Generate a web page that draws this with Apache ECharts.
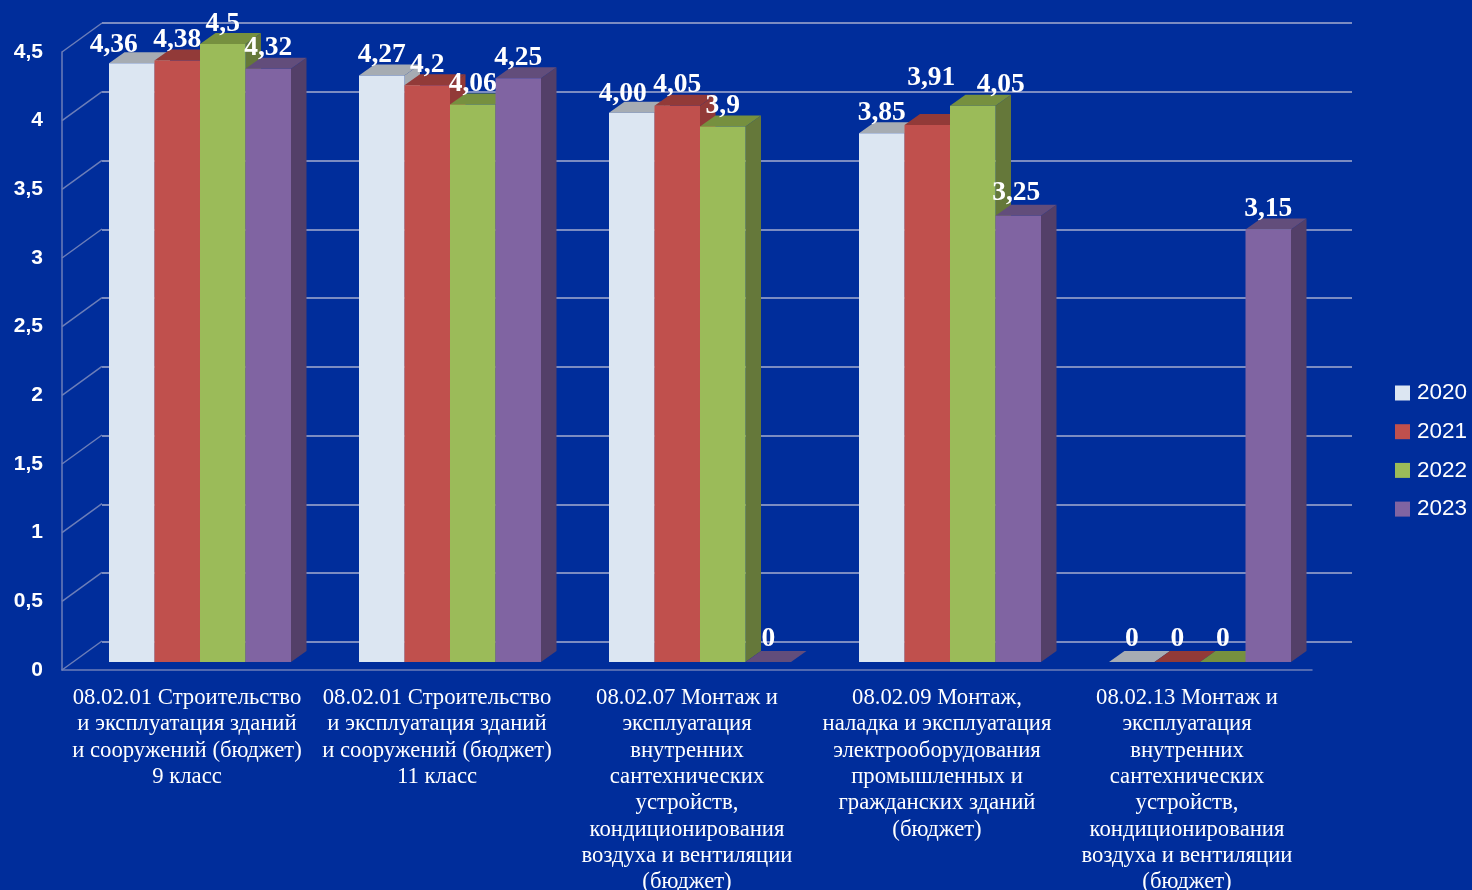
<!DOCTYPE html>
<html>
<head>
<meta charset="utf-8">
<title>Chart</title>
<script src="https://cdn.jsdelivr.net/npm/echarts@6/dist/echarts.min.js"></script>
<style>
html, body { margin: 0; padding: 0; background: #002d9b; }
#chart { width: 1472px; height: 890px; filter: blur(0.5px); }
</style>
</head>
<body>
<div id="chart"></div>
<script>
var categories = [
    '08.02.01 Строительство\nи эксплуатация зданий\nи сооружений (бюджет)\n9 класс',
    '08.02.01 Строительство\nи эксплуатация зданий\nи сооружений (бюджет)\n11 класс',
    '08.02.07 Монтаж и\nэксплуатация\nвнутренних\nсантехнических\nустройств,\nкондиционирования\nвоздуха и вентиляции\n(бюджет)',
    '08.02.09 Монтаж,\nналадка и эксплуатация\nэлектрооборудования\nпромышленных и\nгражданских зданий\n(бюджет)',
    '08.02.13 Монтаж и\nэксплуатация\nвнутренних\nсантехнических\nустройств,\nкондиционирования\nвоздуха и вентиляции\n(бюджет)'
];
var years = ['2020', '2021', '2022', '2023'];
var values2020 = [4.36, 4.27, 4.00, 3.85, 0];
var values2021 = [4.38, 4.2, 4.05, 3.91, 0];
var values2022 = [4.5, 4.06, 3.9, 4.05, 0];
var values2023 = [4.32, 4.25, 0, 3.25, 3.15];
var labels2020 = ['4,36', '4,27', '4,00', '3,85', '0'];
var labels2021 = ['4,38', '4,2', '4,05', '3,91', '0'];
var labels2022 = ['4,5', '4,06', '3,9', '4,05', '0'];
var labels2023 = ['4,32', '4,25', '0', '3,25', '3,15'];
var yTicks = [0, 0.5, 1, 1.5, 2, 2.5, 3, 3.5, 4, 4.5];

var allValues = [values2020, values2021, values2022, values2023];
var allLabels = [labels2020, labels2021, labels2022, labels2023];

// front, top, side
var colors = [
    ['#dce6f2', '#a6acb3', '#a6acb3'],
    ['#c0504d', '#923a38', '#923a38'],
    ['#9bbb59', '#76903f', '#65783a'],
    ['#8064a2', '#624d7b', '#533f68']
];

var gridColor = '#7b8cc2';
var lineColor = '#6c7eb9';
var depthX = 15.5, depthY = 11;      // depth of a bar
var shiftX = 13, shiftY = 8;         // bars stand a little behind the front plane
var wallX = 40, wallY = 29;          // back wall offset
var barShare = 0.182;                // bar width as part of the category band

// hand placed labels in the original: year index, category index -> dx, dy
var labelNudge = {
    '0-0': [-18, 2],
    '0-2': [-9, 2],
    '1-3': [4, -27],
    '2-3': [28, 0],
    '3-3': [-2, -2]
};

function barGeometry(api, k) {
    var pos = api.coord([api.value(0), api.value(1)]);
    var base = api.coord([api.value(0), 0]);
    var w = api.size([1, 0])[0] * barShare;
    var left = pos[0] + shiftX + (k - 2) * w;
    return { left: left, right: left + w, top: pos[1] - shiftY, bottom: base[1] - shiftY, width: w };
}

function renderBar(k) {
    return function (params, api) {
        var g = barGeometry(api, k);
        return {
            type: 'group',
            children: [
                {
                    type: 'polygon',
                    shape: { points: [[g.right, g.top], [g.right + depthX, g.top - depthY], [g.right + depthX, g.bottom - depthY], [g.right, g.bottom]] },
                    style: { fill: colors[k][2] }
                },
                {
                    type: 'polygon',
                    shape: { points: [[g.left, g.top], [g.right, g.top], [g.right + depthX, g.top - depthY], [g.left + depthX, g.top - depthY]] },
                    style: { fill: colors[k][1] }
                },
                {
                    type: 'rect',
                    shape: { x: g.left, y: g.top, width: g.width, height: g.bottom - g.top },
                    style: { fill: colors[k][0] }
                }
            ]
        };
    };
}

function renderLabel(k) {
    return function (params, api) {
        var g = barGeometry(api, k);
        var nudge = labelNudge[k + '-' + api.value(0)] || [0, 0];
        var up = api.value(1) === 0 ? 23.5 : 20.5;
        return {
            type: 'text',
            style: {
                text: allLabels[k][api.value(0)],
                x: (g.left + g.right) / 2 + nudge[0],
                y: g.top - up + nudge[1],
                fill: '#ffffff',
                font: 'bold 27.5px "Liberation Serif"',
                align: 'center',
                verticalAlign: 'middle'
            }
        };
    };
}

function renderDiagonal(params, api) {
    var pos = api.coord([0, api.value(1)]);
    var x = pos[0] - api.size([1, 0])[0] / 2;
    return {
        type: 'line',
        shape: { x1: x, y1: pos[1], x2: x + wallX, y2: pos[1] - wallY },
        style: { stroke: lineColor, lineWidth: 1.5 }
    };
}

var series = [{
    type: 'custom',
    renderItem: renderDiagonal,
    data: yTicks.map(function (v) { return [0, v]; }),
    encode: { x: 0, y: 1 },
    clip: false,
    silent: true
}];
years.forEach(function (year, k) {
    series.push({
        name: year,
        type: 'custom',
        renderItem: renderBar(k),
        data: allValues[k].map(function (v, i) { return [i, v]; }),
        encode: { x: 0, y: 1 },
        itemStyle: { color: colors[k][0] },
        clip: false
    });
});
years.forEach(function (year, k) {
    series.push({
        type: 'custom',
        renderItem: renderLabel(k),
        data: allValues[k].map(function (v, i) { return [i, v]; }),
        encode: { x: 0, y: 1 },
        clip: false,
        silent: true,
        z: 10
    });
});

var myChart = echarts.init(document.getElementById('chart'));
option = {
    animation: false,
    backgroundColor: '#002d9b',
    legend: {
        data: years,
        orient: 'vertical',
        left: 1390,
        top: 376,
        icon: 'rect',
        itemWidth: 15,
        itemHeight: 15,
        itemGap: 14.7,
        textStyle: { color: '#ffffff', fontSize: 22.5, lineHeight: 24, fontFamily: 'Liberation Sans', padding: [0, 0, 0, 2] }
    },
    grid: [
        { left: 62, right: 160, top: 52, bottom: 220, outerBoundsMode: 'none' },
        { left: 102, right: 120, top: 23, bottom: 248, outerBoundsMode: 'none' }
    ],
    xAxis: [
        {
            type: 'category',
            data: categories,
            axisTick: { show: false },
            axisLine: { lineStyle: { color: lineColor, width: 1.5 } },
            axisLabel: {
                interval: 0,
                color: '#ffffff',
                fontFamily: 'Liberation Serif',
                fontSize: 22.7,
                lineHeight: 26.3,
                margin: 15
            }
        },
        { type: 'category', gridIndex: 1, data: categories, show: false }
    ],
    yAxis: [
        {
            type: 'value',
            min: 0,
            max: 4.5,
            interval: 0.5,
            axisTick: { show: false },
            axisLine: { show: true, lineStyle: { color: lineColor, width: 1.5 } },
            splitLine: { show: false },
            axisLabel: {
                color: '#ffffff',
                fontFamily: 'Liberation Sans',
                fontSize: 21,
                fontWeight: 'bold',
                margin: 19,
                padding: [0, 0, 2, 0],
                formatter: function (v) { return String(v).replace('.', ','); }
            }
        },
        {
            type: 'value',
            gridIndex: 1,
            min: 0,
            max: 4.5,
            interval: 0.5,
            axisTick: { show: false },
            axisLine: { show: false },
            axisLabel: { show: false },
            splitLine: { show: true, lineStyle: { color: gridColor, width: 2 } }
        }
    ],
    series: series
};
myChart.setOption(option);
</script>
</body>
</html>
